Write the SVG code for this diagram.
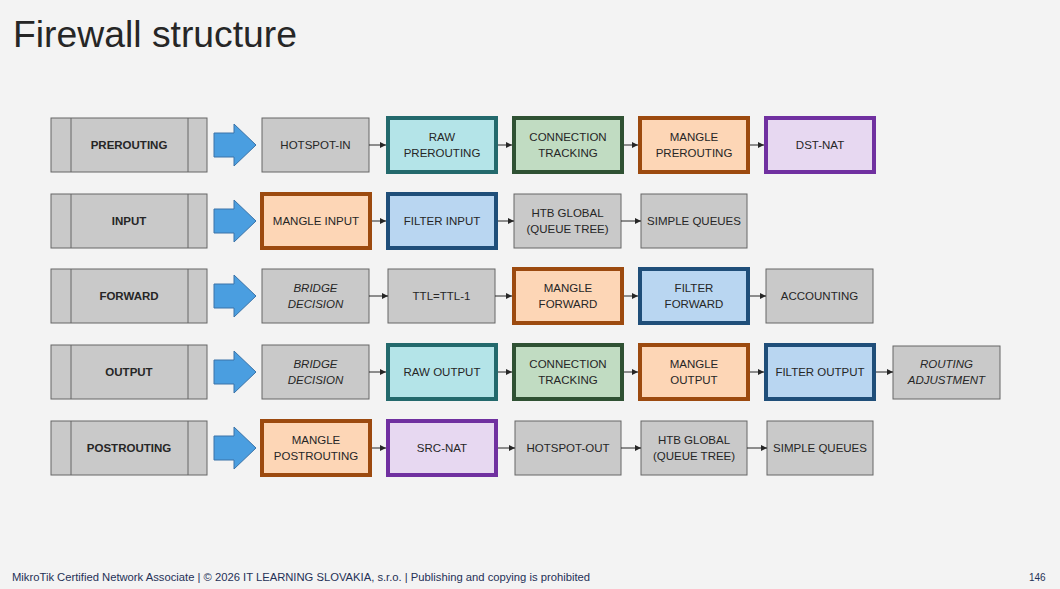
<svg xmlns="http://www.w3.org/2000/svg" width="1060" height="589" viewBox="0 0 1060 589">
<defs>
<style>
text{font-family:"Liberation Sans",Arial,sans-serif;fill:#262626;text-anchor:middle}
.t{font-size:11.5px}
.i{font-style:italic}
.h{font-size:11.5px;font-weight:bold}
.title{font-size:36px;text-anchor:start}
.foot{font-size:10px;fill:#1f3157;text-anchor:start}
.hd{fill:#c9c9c9;stroke:#666666;stroke-width:1}
.hl{stroke:#666666;stroke-width:1}
.g{fill:#c9c9c9;stroke:#666666;stroke-width:1}
.raw{fill:#b4e4e8;stroke:#23696c;stroke-width:4}
.ct{fill:#c1dcc2;stroke:#2f5133;stroke-width:4}
.mg{fill:#fdd6b6;stroke:#9c4a0f;stroke-width:4}
.nat{fill:#e7d8f1;stroke:#7030a0;stroke-width:4}
.fl{fill:#b9d6f1;stroke:#1f4e79;stroke-width:4}
.ba{fill:#4a9ee0;stroke:#3a73a8;stroke-width:1}
.c line{stroke:#262626;stroke-width:1;marker-end:url(#ah)}
</style>
<marker id="ah" markerWidth="6" markerHeight="6" refX="6" refY="3" orient="auto" markerUnits="userSpaceOnUse">
<path d="M0,0 L6,3 L0,6 Z" fill="#262626"/>
</marker>
</defs>
<rect x="0" y="0" width="1060" height="589" fill="#f3f3f3"/>
<text class="title" x="13" y="47" textLength="284" lengthAdjust="spacingAndGlyphs">Firewall structure</text>

<!-- Row 1 -->
<g id="prerouting">
<rect class="hd" x="51" y="118" width="156" height="54"/>
<line class="hl" x1="71" y1="118" x2="71" y2="172"/><line class="hl" x1="188" y1="118" x2="188" y2="172"/>
<text class="h" x="129" y="149">PREROUTING</text>
</g>
<g id="arrow1"><path class="ba" d="M214,133 H234 V124 L256,145 L234,166 V157 H214 Z"/></g>
<g id="hotspot-in"><rect class="g" x="262" y="118" width="107" height="54"/><text class="t" x="315.5" y="149">HOTSPOT-IN</text></g>
<g id="raw-prerouting"><rect class="raw" x="388" y="118" width="108" height="54"/><text class="t" x="442" y="141">RAW</text><text class="t" x="442" y="157">PREROUTING</text></g>
<g id="conntrack1"><rect class="ct" x="514" y="118" width="108" height="54"/><text class="t" x="568" y="141">CONNECTION</text><text class="t" x="568" y="157">TRACKING</text></g>
<g id="mangle-prerouting"><rect class="mg" x="640" y="118" width="108" height="54"/><text class="t" x="694" y="141">MANGLE</text><text class="t" x="694" y="157">PREROUTING</text></g>
<g id="dst-nat"><rect class="nat" x="766" y="118" width="108" height="54"/><text class="t" x="820" y="149">DST-NAT</text></g>

<!-- Row 2 -->
<g id="input">
<rect class="hd" x="51" y="194" width="156" height="54"/>
<line class="hl" x1="71" y1="194" x2="71" y2="248"/><line class="hl" x1="188" y1="194" x2="188" y2="248"/>
<text class="h" x="129" y="225">INPUT</text>
</g>
<g id="arrow2"><path class="ba" d="M214,209 H234 V200 L256,221 L234,242 V233 H214 Z"/></g>
<g id="mangle-input"><rect class="mg" x="262" y="194" width="108" height="54"/><text class="t" x="316" y="225">MANGLE INPUT</text></g>
<g id="filter-input"><rect class="fl" x="388" y="194" width="108" height="54"/><text class="t" x="442" y="225">FILTER INPUT</text></g>
<g id="htb1"><rect class="g" x="514" y="194" width="107" height="54"/><text class="t" x="567.5" y="217">HTB GLOBAL</text><text class="t" x="567.5" y="233">(QUEUE TREE)</text></g>
<g id="simple1"><rect class="g" x="641" y="194" width="106" height="54"/><text class="t" x="694" y="225">SIMPLE QUEUES</text></g>

<!-- Row 3 -->
<g id="forward">
<rect class="hd" x="51" y="269" width="156" height="54"/>
<line class="hl" x1="71" y1="269" x2="71" y2="323"/><line class="hl" x1="188" y1="269" x2="188" y2="323"/>
<text class="h" x="129" y="300">FORWARD</text>
</g>
<g id="arrow3"><path class="ba" d="M214,284 H234 V275 L256,296 L234,317 V308 H214 Z"/></g>
<g id="bridge1"><rect class="g" x="262" y="269" width="107" height="54"/><text class="t i" x="315.5" y="292">BRIDGE</text><text class="t i" x="315.5" y="308">DECISION</text></g>
<g id="ttl"><rect class="g" x="388" y="269" width="107" height="54"/><text class="t" x="441.5" y="300">TTL=TTL-1</text></g>
<g id="mangle-forward"><rect class="mg" x="514" y="269" width="108" height="54"/><text class="t" x="568" y="292">MANGLE</text><text class="t" x="568" y="308">FORWARD</text></g>
<g id="filter-forward"><rect class="fl" x="640" y="269" width="108" height="54"/><text class="t" x="694" y="292">FILTER</text><text class="t" x="694" y="308">FORWARD</text></g>
<g id="accounting"><rect class="g" x="766" y="269" width="107" height="54"/><text class="t" x="819.5" y="300">ACCOUNTING</text></g>

<!-- Row 4 -->
<g id="output">
<rect class="hd" x="51" y="345" width="156" height="54"/>
<line class="hl" x1="71" y1="345" x2="71" y2="399"/><line class="hl" x1="188" y1="345" x2="188" y2="399"/>
<text class="h" x="129" y="376">OUTPUT</text>
</g>
<g id="arrow4"><path class="ba" d="M214,360 H234 V351 L256,372 L234,393 V384 H214 Z"/></g>
<g id="bridge2"><rect class="g" x="262" y="345" width="107" height="54"/><text class="t i" x="315.5" y="368">BRIDGE</text><text class="t i" x="315.5" y="384">DECISION</text></g>
<g id="raw-output"><rect class="raw" x="388" y="345" width="108" height="54"/><text class="t" x="442" y="376">RAW OUTPUT</text></g>
<g id="conntrack2"><rect class="ct" x="514" y="345" width="108" height="54"/><text class="t" x="568" y="368">CONNECTION</text><text class="t" x="568" y="384">TRACKING</text></g>
<g id="mangle-output"><rect class="mg" x="640" y="345" width="108" height="54"/><text class="t" x="694" y="368">MANGLE</text><text class="t" x="694" y="384">OUTPUT</text></g>
<g id="filter-output"><rect class="fl" x="766" y="345" width="108" height="54"/><text class="t" x="820" y="376">FILTER OUTPUT</text></g>
<g id="routing-adj"><rect class="g" x="893" y="346" width="107" height="53"/><text class="t i" x="946.5" y="368">ROUTING</text><text class="t i" x="946.5" y="384">ADJUSTMENT</text></g>

<!-- Row 5 -->
<g id="postrouting">
<rect class="hd" x="51" y="421" width="156" height="54"/>
<line class="hl" x1="71" y1="421" x2="71" y2="475"/><line class="hl" x1="188" y1="421" x2="188" y2="475"/>
<text class="h" x="129" y="452">POSTROUTING</text>
</g>
<g id="arrow5"><path class="ba" d="M214,436 H234 V427 L256,448 L234,469 V460 H214 Z"/></g>
<g id="mangle-postrouting"><rect class="mg" x="262" y="421" width="108" height="54"/><text class="t" x="316" y="444">MANGLE</text><text class="t" x="316" y="460">POSTROUTING</text></g>
<g id="src-nat"><rect class="nat" x="388" y="421" width="108" height="54"/><text class="t" x="442" y="452">SRC-NAT</text></g>
<g id="hotspot-out"><rect class="g" x="515" y="421" width="106" height="54"/><text class="t" x="568" y="452">HOTSPOT-OUT</text></g>
<g id="htb2"><rect class="g" x="641" y="421" width="106" height="54"/><text class="t" x="694" y="444">HTB GLOBAL</text><text class="t" x="694" y="460">(QUEUE TREE)</text></g>
<g id="simple2"><rect class="g" x="767" y="421" width="106" height="54"/><text class="t" x="820" y="452">SIMPLE QUEUES</text></g>

<g id="connectors" class="c">
<line x1="369" y1="145" x2="386" y2="145"/>
<line x1="498" y1="145" x2="512" y2="145"/>
<line x1="624" y1="145" x2="638" y2="145"/>
<line x1="750" y1="145" x2="764" y2="145"/>

<line x1="372" y1="221" x2="386" y2="221"/>
<line x1="498" y1="221" x2="514" y2="221"/>
<line x1="621" y1="221" x2="641" y2="221"/>

<line x1="369" y1="296" x2="388" y2="296"/>
<line x1="495" y1="296" x2="512" y2="296"/>
<line x1="624" y1="296" x2="638" y2="296"/>
<line x1="750" y1="296" x2="766" y2="296"/>

<line x1="369" y1="372" x2="386" y2="372"/>
<line x1="498" y1="372" x2="512" y2="372"/>
<line x1="624" y1="372" x2="638" y2="372"/>
<line x1="750" y1="372" x2="764" y2="372"/>
<line x1="876" y1="372" x2="893" y2="372"/>

<line x1="372" y1="448" x2="386" y2="448"/>
<line x1="498" y1="448" x2="515" y2="448"/>
<line x1="621" y1="448" x2="641" y2="448"/>
<line x1="747" y1="448" x2="767" y2="448"/>
</g>

<text class="foot" x="12" y="581" textLength="578" lengthAdjust="spacingAndGlyphs">MikroTik Certified Network Associate | © 2026 IT LEARNING SLOVAKIA, s.r.o. | Publishing and copying is prohibited</text>
<text class="foot" x="1029" y="581">146</text>
</svg>
